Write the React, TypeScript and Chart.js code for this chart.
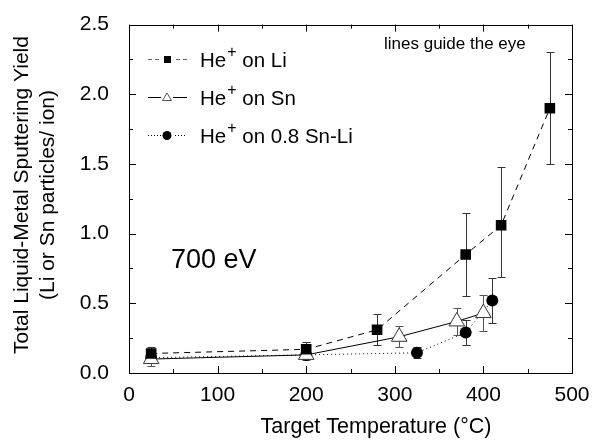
import React, { useEffect, useRef } from "react";
import { Chart, registerables } from "chart.js";

Chart.register(...registerables);

// ---- data ----
const liTemp = [25, 200, 280, 380, 420, 475];
const liYield = [0.14, 0.17, 0.31, 0.85, 1.06, 1.9];
const liErrUp = [0.05, 0.05, 0.11, 0.3, 0.42, 0.4];
const liErrDown = [0.05, 0.05, 0.11, 0.3, 0.37, 0.4];

const snTemp = [25, 200, 305, 370, 400];
const snYield = [0.1, 0.13, 0.26, 0.37, 0.43];
const snErr = [0.05, 0.04, 0.075, 0.1, 0.13];

const snliTemp = [25, 200, 325, 380, 410];
const snliYield = [0.11, 0.13, 0.145, 0.29, 0.52];
const snliErr = [0.03, 0.03, 0.04, 0.09, 0.16];

const xTicks = [0, 100, 200, 300, 400, 500];
const yTicks = [0, 0.5, 1.0, 1.5, 2.0, 2.5];

const legendLabels = ["on Li", "on Sn", "on 0.8 Sn-Li"];
const yTitleLines = ["Total Liquid-Metal Sputtering Yield", "(Li or Sn particles/ ion)"];
const xTitle = "Target Temperature (\u00B0C)";
const noteText = "lines guide the eye";
const energyText = "700 eV";

const FONT = "'Liberation Sans', Arial, sans-serif";

const toXY = (xs: number[], ys: number[]) => xs.map((x, i) => ({ x, y: ys[i] }));

const errorSets = [
  { xs: liTemp, ys: liYield, up: liErrUp, down: liErrDown, color: "#333" },
  { xs: snTemp, ys: snYield, up: snErr, down: snErr, color: "#555" },
  { xs: snliTemp, ys: snliYield, up: snliErr, down: snliErr, color: "#333" },
];

const decorPlugin = {
  id: "decor",
  beforeDatasetsDraw(chart: any) {
    const ctx = chart.ctx;
    const xs = chart.scales.x;
    const ys = chart.scales.y;
    ctx.save();
    ctx.lineWidth = 1;
    for (const s of errorSets) {
      ctx.strokeStyle = s.color;
      s.xs.forEach((t: number, i: number) => {
        const px = Math.round(xs.getPixelForValue(t)) + 0.5;
        const top = Math.round(ys.getPixelForValue(s.ys[i] + s.up[i])) + 0.5;
        const bot = Math.round(ys.getPixelForValue(s.ys[i] - s.down[i])) + 0.5;
        ctx.beginPath();
        ctx.moveTo(px, top);
        ctx.lineTo(px, bot);
        ctx.moveTo(px - 4, top);
        ctx.lineTo(px + 4, top);
        ctx.moveTo(px - 4, bot);
        ctx.lineTo(px + 4, bot);
        ctx.stroke();
      });
    }
    ctx.restore();
  },
  afterDraw(chart: any) {
    const ctx = chart.ctx;
    const a = chart.chartArea;
    const xs = chart.scales.x;
    const ys = chart.scales.y;
    ctx.save();
    ctx.strokeStyle = "#000";
    ctx.lineWidth = 1;
    // box
    ctx.strokeRect(Math.round(a.left) + 0.5, Math.round(a.top) + 0.5, Math.round(a.right - a.left), Math.round(a.bottom - a.top));
    // ticks
    ctx.beginPath();
    for (let v = 0; v <= 500; v += 50) {
      const px = Math.round(xs.getPixelForValue(v)) + 0.5;
      const len = v % 100 === 0 ? 7 : 4;
      ctx.moveTo(px, a.bottom);
      ctx.lineTo(px, a.bottom - len);
      ctx.moveTo(px, a.top);
      ctx.lineTo(px, a.top + len);
    }
    for (let v = 0; v <= 2.5001; v += 0.25) {
      const py = Math.round(ys.getPixelForValue(v)) + 0.5;
      const len = Math.abs(v * 2 - Math.round(v * 2)) < 1e-6 ? 7 : 4;
      ctx.moveTo(a.left, py);
      ctx.lineTo(a.left + len, py);
      ctx.moveTo(a.right, py);
      ctx.lineTo(a.right - len, py);
    }
    ctx.stroke();

    // axis titles
    ctx.fillStyle = "#000";
    ctx.font = `21.5px ${FONT}`;
    ctx.textAlign = "center";
    ctx.textBaseline = "middle";
    ctx.fillText(xTitle, 376, 427);
    ctx.save();
    ctx.font = `21px ${FONT}`;
    ctx.translate(22, 195);
    ctx.rotate(-Math.PI / 2);
    ctx.fillText(yTitleLines[0], 0, 0);
    ctx.fillText(yTitleLines[1], 0, 26);
    ctx.restore();

    // annotations
    ctx.textAlign = "left";
    ctx.font = `17px ${FONT}`;
    ctx.fillText(noteText, 384, 44);
    ctx.textBaseline = "alphabetic";
    ctx.font = `27px ${FONT}`;
    ctx.fillText(energyText, 171, 268);

    // legend
    const rows = [59, 97, 135];
    const x0 = 148, x1 = 187, xm = 167;
    rows.forEach((y, i) => {
      ctx.save();
      ctx.lineWidth = 1;
      if (i === 0) { ctx.setLineDash([4, 3]); ctx.strokeStyle = "#666"; }
      else if (i === 1) { ctx.setLineDash([]); ctx.strokeStyle = "#000"; }
      else { ctx.setLineDash([1, 2]); ctx.strokeStyle = "#000"; }
      ctx.beginPath();
      ctx.moveTo(x0, y + 0.5);
      ctx.lineTo(x1, y + 0.5);
      ctx.stroke();
      ctx.setLineDash([]);
      ctx.fillStyle = "#fff";
      ctx.fillRect(xm - 6, y - 5, 12, 10);
      ctx.fillStyle = "#000";
      ctx.strokeStyle = "#000";
      if (i === 0) {
        ctx.fillRect(xm - 3, y - 3, 7, 7);
      } else if (i === 1) {
        ctx.strokeStyle = "#555";
        ctx.fillStyle = "#fff";
        ctx.beginPath();
        ctx.moveTo(xm, y - 4);
        ctx.lineTo(xm + 4.5, y + 3.5);
        ctx.lineTo(xm - 4.5, y + 3.5);
        ctx.closePath();
        ctx.fill();
        ctx.stroke();
      } else {
        ctx.beginPath();
        ctx.arc(xm, y + 0.5, 4.5, 0, Math.PI * 2);
        ctx.fill();
      }
      ctx.restore();
      ctx.fillStyle = "#000";
      ctx.textBaseline = "alphabetic";
      ctx.font = `20.5px ${FONT}`;
      const base = y + 8;
      ctx.fillText("He", 200, base);
      const wHe = ctx.measureText("He").width;
      ctx.font = `16px ${FONT}`;
      ctx.fillText("+", 200 + wHe + 1, base - 10);
      const wPlus = ctx.measureText("+").width;
      ctx.font = `20.5px ${FONT}`;
      ctx.fillText(" " + legendLabels[i], 200 + wHe + wPlus + 1, base);
    });
    ctx.restore();
  },
};

export default function App() {
  const ref = useRef<HTMLCanvasElement | null>(null);
  useEffect(() => {
    if (!ref.current) return;
    const chart = new Chart(ref.current, {
      type: "line",
      data: {
        datasets: [
          {
            label: "He+ on Li",
            data: toXY(liTemp, liYield),
            borderColor: "#000",
            borderWidth: 1,
            borderDash: [6, 5],
            pointStyle: "rect",
            pointRadius: 7.5,
            pointBackgroundColor: "#000",
            pointBorderColor: "#000",
            pointBorderWidth: 0,
            tension: 0,
          },
          {
            label: "He+ on Sn",
            data: toXY(snTemp, snYield),
            borderColor: "#000",
            borderWidth: 1,
            pointStyle: "triangle",
            pointRadius: 9,
            pointBackgroundColor: "#fff",
            pointBorderColor: "#333",
            pointBorderWidth: 1,
            tension: 0,
          },
          {
            label: "He+ on 0.8 Sn-Li",
            data: toXY(snliTemp, snliYield),
            borderColor: "#000",
            borderWidth: 1,
            borderDash: [1, 3],
            pointStyle: "circle",
            pointRadius: 6,
            pointBackgroundColor: "#000",
            pointBorderColor: "#000",
            pointBorderWidth: 0,
            tension: 0,
          },
        ],
      },
      options: {
        animation: false,
        responsive: false,
        maintainAspectRatio: false,
        layout: { padding: { top: 15, right: 31, left: 0, bottom: 0 } },
        plugins: { legend: { display: false }, tooltip: { enabled: false } },
        scales: {
          x: {
            type: "linear",
            min: 0,
            max: 500,
            afterFit: (s: any) => { s.height = 69; },
            afterBuildTicks: (s: any) => { s.ticks = xTicks.map((v) => ({ value: v })); },
            grid: { display: false },
            border: { display: false },
            ticks: { color: "#000", padding: 2, maxRotation: 0, font: { family: FONT, size: 21 } },
          },
          y: {
            type: "linear",
            min: 0,
            max: 2.5,
            afterFit: (s: any) => { s.width = 129; },
            afterBuildTicks: (s: any) => { s.ticks = yTicks.map((v) => ({ value: v })); },
            grid: { display: false },
            border: { display: false },
            ticks: {
              color: "#000",
              padding: 12,
              font: { family: FONT, size: 21 },
              callback: (v: any) => Number(v).toFixed(1),
            },
          },
        },
      },
      plugins: [decorPlugin],
    });
    return () => chart.destroy();
  }, []);
  return (
    <div style={{ position: "absolute", left: 0, top: 0, width: 603, height: 442, background: "#fff" }}>
      <canvas ref={ref} width={603} height={442} />
    </div>
  );
}
